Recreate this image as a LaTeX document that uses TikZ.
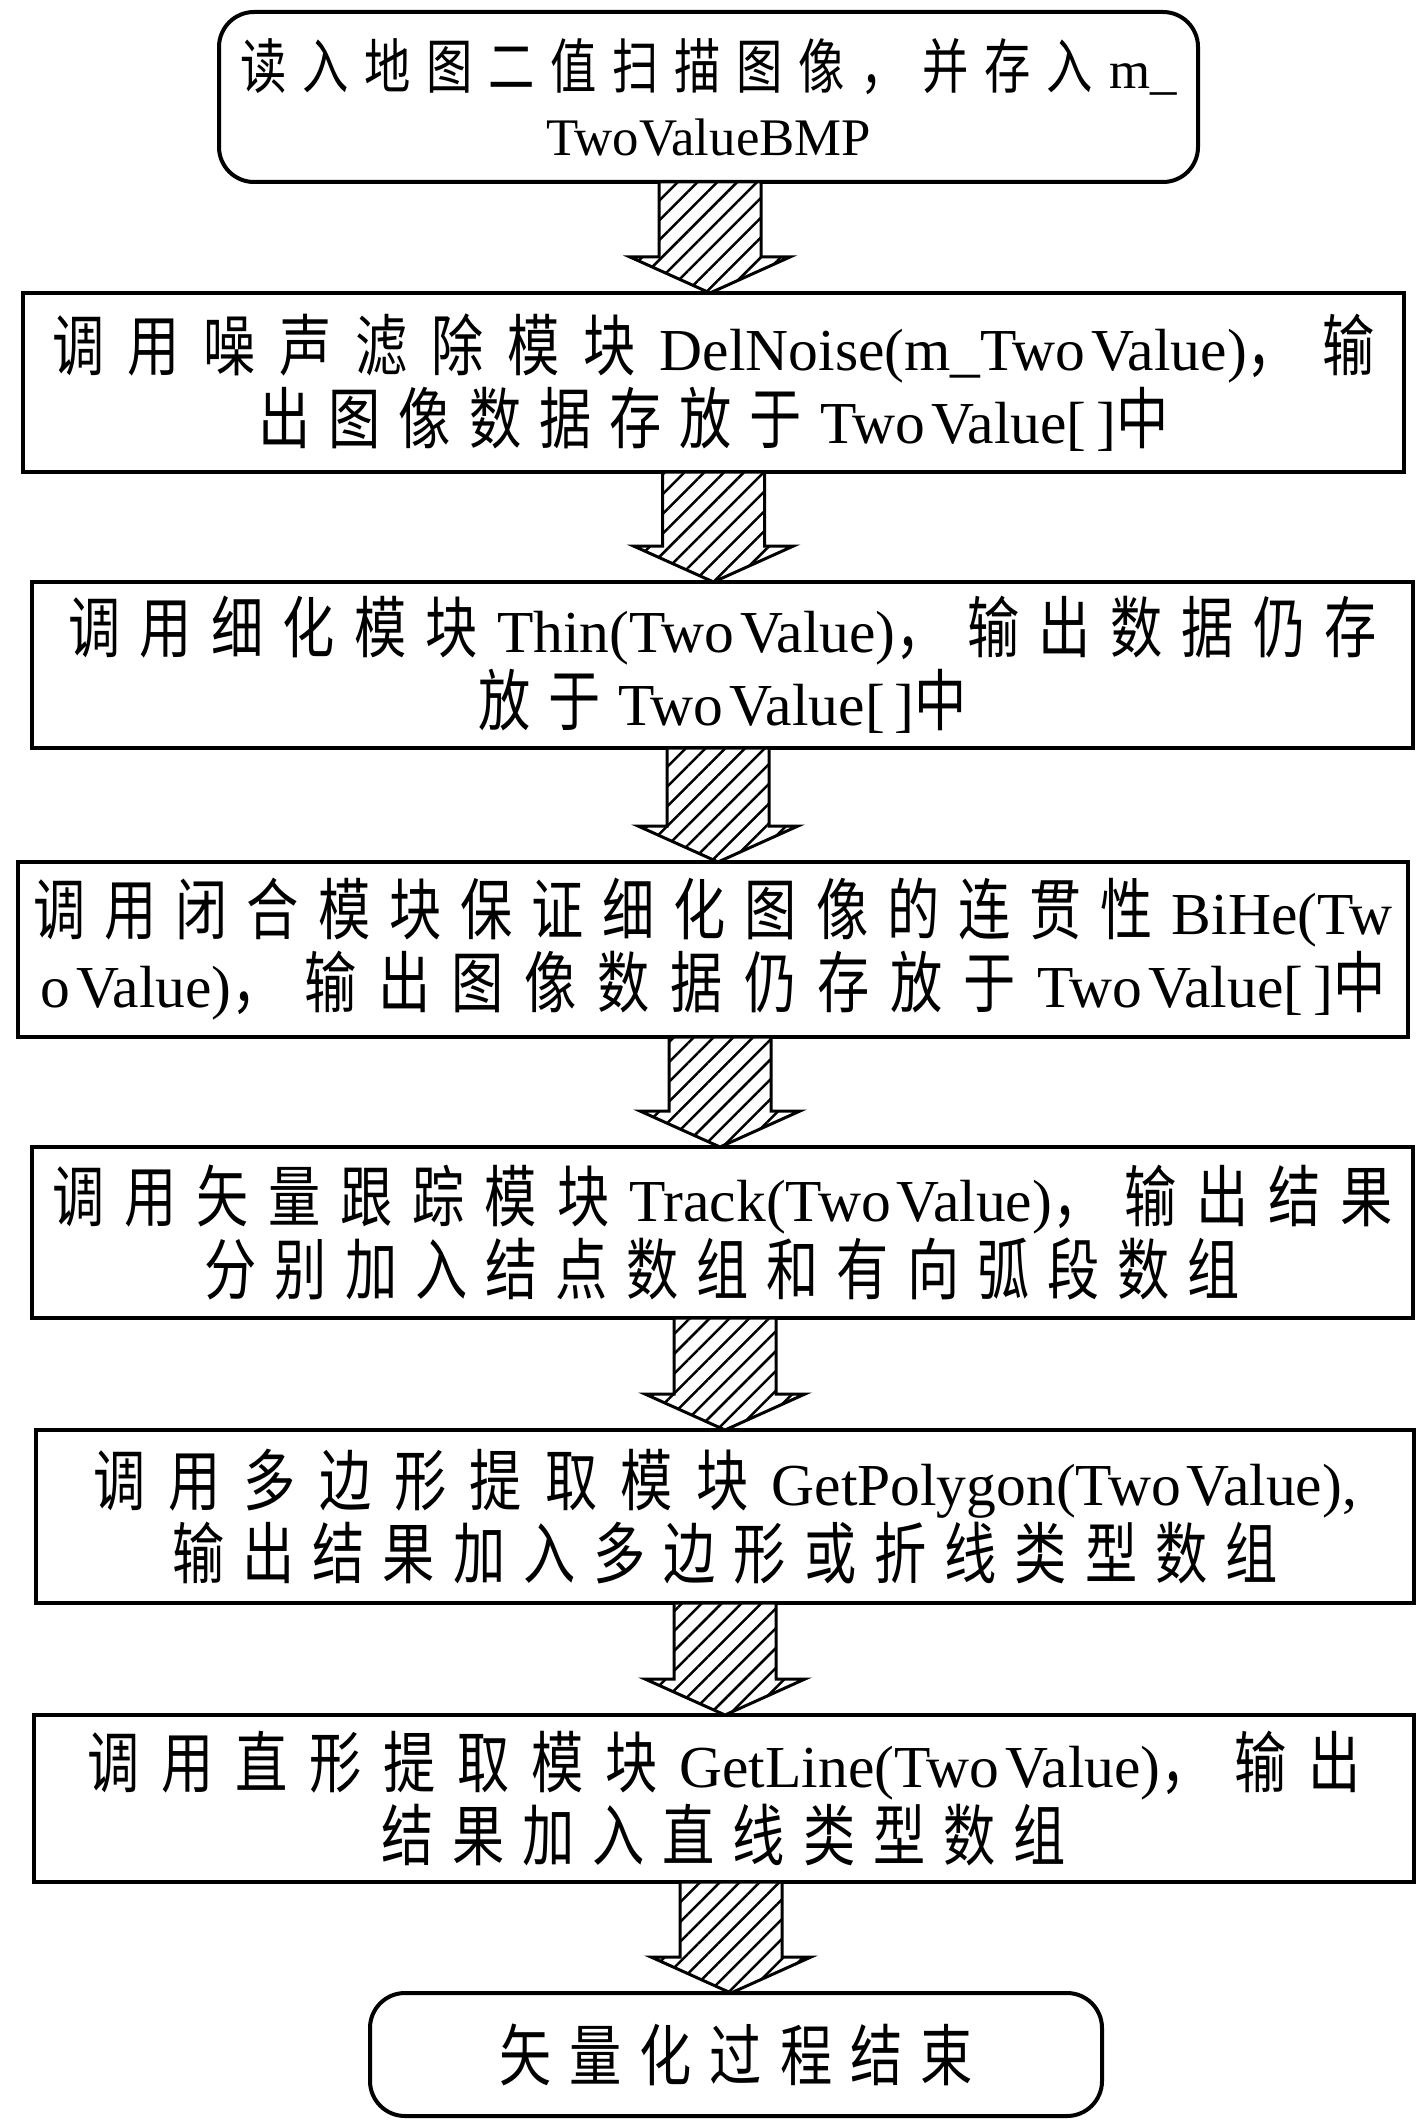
\documentclass[tikz,border=0pt]{standalone}
\usepackage{fontspec}
\setmainfont{Liberation Serif}[Scale=0.96]
\newfontfamily\cjk[FakeStretch=0.78,Scale=1.08]{Noto Sans CJK SC}
\usetikzlibrary{calc,patterns.meta}
\newdimen\cjkgap
\cjkgap=18pt
\newcommand\G{\hskip\cjkgap plus 1fil\relax}
\makeatletter
\def\cjks#1{\cjk@first#1\relax}
\def\cjk@first#1{{\cjk#1}\cjk@rest}
\def\cjk@rest#1{\ifx#1\relax\else\G{\cjk#1}\expandafter\cjk@rest\fi}
\makeatother
\newcommand\TV{Two\kern6pt Value}
\newcommand\blockarrow[3]{%
  \path[hatcharrow] let \p1=(#1.south), \p2=(#2.north) in
    (#3-51pt,\y1) -- (#3+51pt,\y1) -- (#3+51pt,\y2+36pt) -- (#3+80pt,\y2+36pt)
    -- (#3pt,\y2) -- (#3-80pt,\y2+36pt) -- (#3-51pt,\y2+36pt) -- cycle;}
\tikzset{
  box/.style={draw, line width=4pt, inner sep=0pt, outer sep=0pt, align=center,
    font=\fontsize{62}{73}\selectfont},
  rbox/.style={box, rounded corners=35pt},
  hatcharrow/.style={draw, line width=3pt, line join=miter, preaction={fill=white},
    pattern={Lines[angle=45,distance=14pt,line width=2.5pt]}}
}
\begin{document}
\begin{tikzpicture}[x=1pt,y=1pt]
\fill[white] (0,0) rectangle (1416,-2127);
\useasboundingbox (0,0) rectangle (1416,-2127);

\node[rbox, minimum width=979pt, minimum height=170pt,
  font={\fontsize{55}{67}\selectfont\cjkgap=15pt}] (b1) at (708.5,-97)
  {\makebox[936pt][s]{\cjks{读入地图二值扫描图像，并存入}\G m\_}\\
   \mbox{TwoValueBMP}};

\node[box, minimum width=1381pt, minimum height=179pt] (b2) at (713.5,-382.5)
  {\makebox[1323pt][s]{\cjks{调用噪声滤除模块}\G DelNoise(m\_\TV)\cjks{，}\G\cjks{输}}\\
   \mbox{\cjks{出图像数据存放于}\G \TV[\kern10pt]\cjks{中}}};

\node[box, minimum width=1381pt, minimum height=166pt] (b3) at (722.5,-665)
  {\makebox[1309pt][s]{\cjks{调用细化模块}\G Thin(\TV)\cjks{，}\G\cjks{输出数据仍存}}\\
   \mbox{\cjks{放于}\G \TV[\kern10pt]\cjks{中}}};

\node[box, minimum width=1390pt, minimum height=175pt] (b4) at (713,-949.5)
  {\makebox[1359pt][s]{\cjks{调用闭合模块保证细化图像的连贯性}\G BiHe(Tw}\\
   \makebox[1345pt][s]{o\kern6pt Value)\cjks{，}\G\cjks{输出图像数据仍存放于}\G \TV[\kern10pt]\cjks{中}}};

\node[box, minimum width=1381pt, minimum height=171pt] (b5) at (722.5,-1232.5)
  {\makebox[1341pt][s]{\cjks{调用矢量跟踪模块}\G Track(\TV)\cjks{，}\G\cjks{输出结果}}\\
   \mbox{\cjks{分别加入结点数组和有向弧段数组}}};

\node[box, minimum width=1378pt, minimum height=173pt] (b6) at (725,-1516.5)
  {\makebox[1264pt][s]{\cjks{调用多边形提取模块}\G GetPolygon(\TV),}\\
   \mbox{\cjks{输出结果加入多边形或折线类型数组}}};

\node[box, minimum width=1380pt, minimum height=167pt] (b7) at (724,-1798.5)
  {\makebox[1274pt][s]{\cjks{调用直形提取模块}\G GetLine(\TV)\cjks{，}\G\cjks{输出}}\\
   \mbox{\cjks{结果加入直线类型数组}}};

\node[rbox, minimum width=732pt, minimum height=123pt] (b8) at (736,-2054.5)
  {\mbox{\cjks{矢量化过程结束}}};

\blockarrow{b1}{b2}{710}
\blockarrow{b2}{b3}{713.5}
\blockarrow{b3}{b4}{718}
\blockarrow{b4}{b5}{720}
\blockarrow{b5}{b6}{725}
\blockarrow{b6}{b7}{725}
\blockarrow{b7}{b8}{731}
\end{tikzpicture}
\end{document}
